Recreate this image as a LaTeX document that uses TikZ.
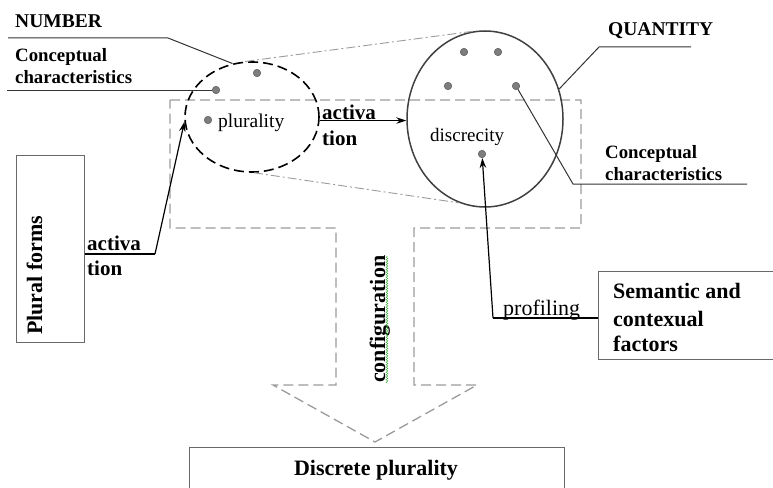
\documentclass[tikz,border=0pt]{standalone}
\usepackage{fontspec}
\setmainfont{Liberation Serif}[BoldFont={Liberation Serif Bold}, ItalicFont={Liberation Serif Italic}]
\usetikzlibrary{arrows.meta,decorations.pathmorphing,shapes.geometric}
\definecolor{dotgray}{RGB}{125,125,125}
\definecolor{dashgray}{RGB}{155,155,155}
\definecolor{boxgray}{RGB}{105,105,105}
\definecolor{squiggle}{RGB}{70,175,70}
\tikzset{
  lead/.style={draw=black!80, line width=1pt},
  arr/.style={draw=black, line width=1.2pt, -{Stealth[length=10pt,width=6.5pt]}},
  dot/.style={circle, fill=dotgray, draw=black!65, line width=0.5pt, inner sep=0pt, minimum size=7.5pt},
  boxst/.style={draw=boxgray, line width=1pt, inner sep=0pt},
  bl/.style={inner sep=0pt, font=\bfseries\fontsize{#1}{#1}\selectfont},
  rl/.style={inner sep=0pt, font=\fontsize{#1}{#1}\selectfont},
  dashdot/.style={draw=dashgray, line width=0.9pt, dash pattern=on 9pt off 3pt on 2pt off 3pt},
  tarrow/.style={draw=dashgray, line width=1.3pt, dash pattern=on 10pt off 5pt},
}
\begin{document}
\begin{tikzpicture}[x=1pt,y=-1pt]
\useasboundingbox (0,0) rectangle (773,487);

% big dashed T-shaped arrow
\draw[tarrow] (170,100) -- (581,100) -- (581,228) -- (414,228) -- (414,385) -- (477,385)
  -- (375,442) -- (273,385) -- (336,385) -- (336,228) -- (170,228) -- cycle;

% ellipses
\node[ellipse, draw=black, line width=1.6pt, dash pattern=on 10pt off 5pt,
      minimum width=134pt, minimum height=110pt, inner sep=0pt] (num) at (252,117) {};
\node[ellipse, draw=black!75, line width=1.5pt,
      minimum width=156pt, minimum height=176pt, inner sep=0pt] (qty) at (485,119) {};

% dash-dot projection lines
\draw[dashdot] (num.97) -- (qty.97);
\draw[dashdot] (num.-88) -- (qty.-107);

% dots
\node[dot] (ld1) at (257,73) {};
\node[dot] (ld2) at (216,90) {};
\node[dot] (ld3) at (208,120) {};
\node[dot] (qd1) at (464,52) {};
\node[dot] (qd2) at (498,52) {};
\node[dot] (qd3) at (448,86) {};
\node[dot] (qd4) at (516,86) {};
\node[dot] (qd5) at (482,154) {};

% texts inside ellipses
\node[rl=19.5, anchor=base west] (plur) at (218,127) {plurality};
\node[rl=19, anchor=base west] (disc) at (430,141) {discrecity};

% NUMBER label and leaders
\node[bl=19.5, anchor=base west] (numtxt) at (15,28) {NUMBER};
\coordinate (nl0) at (8,38);
\coordinate (nl1) at (168,38);
\draw[lead] (nl0) -- (nl1) -- (num.110);
\node[bl=18.8, anchor=base west] (cc1a) at (15,62) {Conceptual};
\node[bl=18.8, anchor=base west] (cc1b) at (15,83) {characteristics};
\coordinate (cl0) at (7,90);
\draw[lead] (cl0) -- (ld2);

% QUANTITY label and leaders
\node[bl=19.5, anchor=base west] (qtytxt) at (608,36) {QUANTITY};
\coordinate (ql1) at (599,47);
\coordinate (ql2) at (691,47);
\draw[lead] (qty.22) -- (ql1) -- (ql2);
\node[bl=18.8, anchor=base west] (cc2a) at (605,158) {Conceptual};
\node[bl=18.8, anchor=base west] (cc2b) at (605,180) {characteristics};
\coordinate (rl1) at (573,184);
\coordinate (rl2) at (747,184);
\draw[lead] (qd4) -- (rl1) -- (rl2);

% Plural forms box
\node[boxst, anchor=north west, minimum width=68pt, minimum height=187pt] (plural) at (16,155) {};
\node[bl=22, rotate=90, anchor=base west] (pluraltxt) at (42,335) {Plural forms};

% left activation
\coordinate (a1) at (155,254);
\draw[line width=1.2pt] (plural.east |- a1) -- (a1);
\draw[arr] (a1) -- (num.184);
\node[bl=21, anchor=base west] (act1a) at (87,250) {activa};
\node[bl=21, anchor=base west] (act1b) at (87,275) {tion};

% middle activation
\draw[arr] (num.-3) -- (qty.west |- num.-3);
\node[bl=21, anchor=base west] (act2a) at (322,119) {activa};
\node[bl=21, anchor=base west] (act2b) at (322,145) {tion};

% configuration
\node[bl=22, rotate=90, anchor=base west] (conf) at (385,383) {configuration};
\coordinate (sq0) at (387,383);
\coordinate (sq1) at (387,256);
\draw[squiggle, line width=0.5pt, decorate, decoration={snake, amplitude=0.9pt, segment length=2.5pt}] (sq0) -- (sq1);

% Semantic box and profiling
\node[boxst, anchor=north west, minimum width=180pt, minimum height=88pt] (sem) at (598,271) {};
\node[bl=22, anchor=base west] (s1) at (613,298) {Semantic and};
\node[bl=22, anchor=base west] (s2) at (613,326) {contexual};
\node[bl=22, anchor=base west] (s3) at (613,351) {factors};
\coordinate (p1) at (493,318);
\draw[line width=1.2pt] (sem.west |- p1) -- (p1);
\draw[arr] (p1) -- (qd5);
\node[rl=22, anchor=base west] (prof) at (503,315) {profiling};

% Discrete plurality box
\node[boxst, anchor=north west, minimum width=375pt, minimum height=60pt] (dp) at (189,447) {};
\node[bl=22, anchor=base] (dptxt) at (376,475) {Discrete plurality};
\end{tikzpicture}
\end{document}
